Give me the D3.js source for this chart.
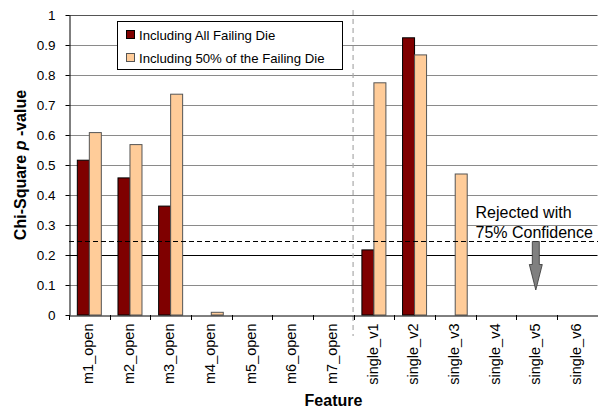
<!DOCTYPE html>
<html>
<head>
<meta charset="utf-8">
<script src="https://cdn.jsdelivr.net/npm/d3@7"></script>
<style>
  body { margin: 0; background: #fff; }
  svg { display: block; font-family: Arial, "Liberation Sans", sans-serif; }
</style>
</head>
<body>
<svg id="chart" width="598" height="408"></svg>
<script>
// Features along the x axis
const features = ["m1_open", "m2_open", "m3_open", "m4_open", "m5_open", "m6_open", "m7_open",
                  "single_v1", "single_v2", "single_v3", "single_v4", "single_v5", "single_v6"];
// Chi-square p-values per series
const allFailing = [0.516, 0.457, 0.363, 0, 0, 0, 0, 0.217, 0.924, 0, 0, 0, 0];
const halfFailing = [0.608, 0.568, 0.736, 0.009, 0, 0, 0, 0.774, 0.867, 0.47, 0, 0, 0];
const seriesNames = ["Including All Failing Die", "Including 50% of the Failing Die"];
const seriesColors = ["#7f0000", "#ffcc99"];
const yTicks = [0, 0.1, 0.2, 0.3, 0.4, 0.5, 0.6, 0.7, 0.8, 0.9, 1];
const threshold = 0.245;

const FONT = "Arial, 'Liberation Sans', sans-serif";
const svg = d3.select("#chart");
const m = { left: 69, right: 0.5, top: 15, bottom: 93 };
const W = 598, H = 408;

const x = d3.scaleBand().domain(features).range([m.left, W - m.right]);
const y = d3.scaleLinear().domain([0, 1]).range([H - m.bottom, m.top]);

// horizontal gridlines
svg.append("g").selectAll("line").data(yTicks.filter(d => d > 0)).join("line")
  .attr("x1", m.left).attr("x2", W - m.right)
  .attr("y1", d => Math.round(y(d)) + 0.5).attr("y2", d => Math.round(y(d)) + 0.5)
  .attr("stroke", d => Math.abs(d - 0.2) < 1e-9 ? "#000" : (d === 1 ? "#555" : "#8a8a8a"))
  .attr("stroke-width", 1);

// bars
const barW = 12;
const series = [allFailing, halfFailing];
series.forEach((vals, si) => {
  svg.append("g").selectAll("rect").data(features).join("rect")
    .filter((d, i) => vals[i] > 0)
    .attr("x", d => x(d) + x.bandwidth() / 2 - barW + si * barW)
    .attr("y", d => y(vals[features.indexOf(d)]))
    .attr("width", barW)
    .attr("height", d => y(0) - y(vals[features.indexOf(d)]))
    .attr("fill", seriesColors[si])
    .attr("stroke", si === 0 ? "#000" : "#555")
    .attr("stroke-width", 1);
});

// threshold line
svg.append("line")
  .attr("x1", m.left).attr("x2", W)
  .attr("y1", y(threshold)).attr("y2", y(threshold))
  .attr("stroke", "#000").attr("stroke-width", 1.2)
  .attr("stroke-dasharray", "5,3");

// vertical separator between groups
const sepX = x("single_v1") - 0.5;
svg.append("line")
  .attr("x1", sepX).attr("x2", sepX)
  .attr("y1", 10).attr("y2", 336)
  .attr("stroke", "#aaa").attr("stroke-width", 1.2)
  .attr("stroke-dasharray", "5,4");

// y axis
const yAxis = svg.append("g")
  .attr("transform", `translate(${m.left + 0.5},0)`)
  .call(d3.axisLeft(y).tickValues(yTicks).tickFormat(d => d === 0 || d === 1 ? d3.format("d")(d) : d3.format(".1f")(d)).tickSize(4).tickSizeOuter(0));
yAxis.select(".domain").attr("stroke", "#000");
yAxis.selectAll(".tick line").attr("stroke", "#000");
yAxis.selectAll(".tick text").attr("font-size", 13.5).attr("fill", "#000")
  .attr("font-family", FONT).attr("x", -14);

// x axis
const xAxis = svg.append("g")
  .attr("transform", `translate(0,${y(0) + 0.5})`)
  .call(d3.axisBottom(x).tickSize(0).tickSizeOuter(0));
xAxis.select(".domain").attr("stroke", "#000");
xAxis.selectAll(".tick text")
  .attr("font-size", 14.5).attr("fill", "#000")
  .attr("font-family", FONT)
  .attr("transform", "rotate(-90)")
  .attr("text-anchor", "end").attr("dy", "0.33em")
  .attr("x", -8).attr("y", -1);
// boundary ticks between categories
svg.append("g").selectAll("line").data(d3.range(features.length + 1)).join("line")
  .attr("x1", i => Math.round(m.left + i * x.step()) + 0.5)
  .attr("x2", i => Math.round(m.left + i * x.step()) + 0.5)
  .attr("y1", y(0)).attr("y2", y(0) + 5)
  .attr("stroke", "#000");

// axis titles
svg.append("text")
  .attr("transform", `translate(26,${(m.top + y(0)) / 2}) rotate(-90)`)
  .attr("text-anchor", "middle")
  .attr("font-size", 16).attr("font-weight", "bold")
  .call(t => {
    t.append("tspan").text("Chi-Square ");
    t.append("tspan").attr("font-style", "italic").text("p");
    t.append("tspan").text(" -value");
  });
svg.append("text")
  .attr("x", 333.5).attr("y", 406)
  .attr("text-anchor", "middle")
  .attr("font-size", 16).attr("font-weight", "bold")
  .text("Feature");

// legend
const lg = svg.append("g");
lg.append("rect").attr("x", 117.5).attr("y", 21.5).attr("width", 225).attr("height", 48)
  .attr("fill", "#fff").attr("stroke", "#000");
seriesNames.forEach((name, i) => {
  const cy = 35 + i * 23;
  lg.append("rect").attr("x", 126.5).attr("y", cy - 4.5).attr("width", 8).attr("height", 8)
    .attr("fill", seriesColors[i]).attr("stroke", i === 0 ? "#000" : "#555");
  lg.append("text").attr("x", 139).attr("y", cy).attr("dy", "0.35em")
    .attr("font-size", 13.2).text(name);
});

// annotation
svg.append("text").attr("x", 475.5).attr("y", 217.5).attr("font-size", 16).text("Rejected with");
svg.append("text").attr("x", 475.5).attr("y", 237.5).attr("font-size", 16).text("75% Confidence");

// arrow pointing down from the threshold
const arrowX = 535.8, arrowTop = y(threshold), arrowTip = 290;
svg.append("path")
  .attr("d", `M${arrowX - 3.5},${arrowTop} L${arrowX + 3.5},${arrowTop} L${arrowX + 3.5},${arrowTop + 23} L${arrowX + 6.5},${arrowTop + 23} L${arrowX},${arrowTip} L${arrowX - 6.5},${arrowTop + 23} L${arrowX - 3.5},${arrowTop + 23} Z`)
  .attr("fill", "#808080").attr("stroke", "#333").attr("stroke-width", 0.8);
</script>
</body>
</html>
